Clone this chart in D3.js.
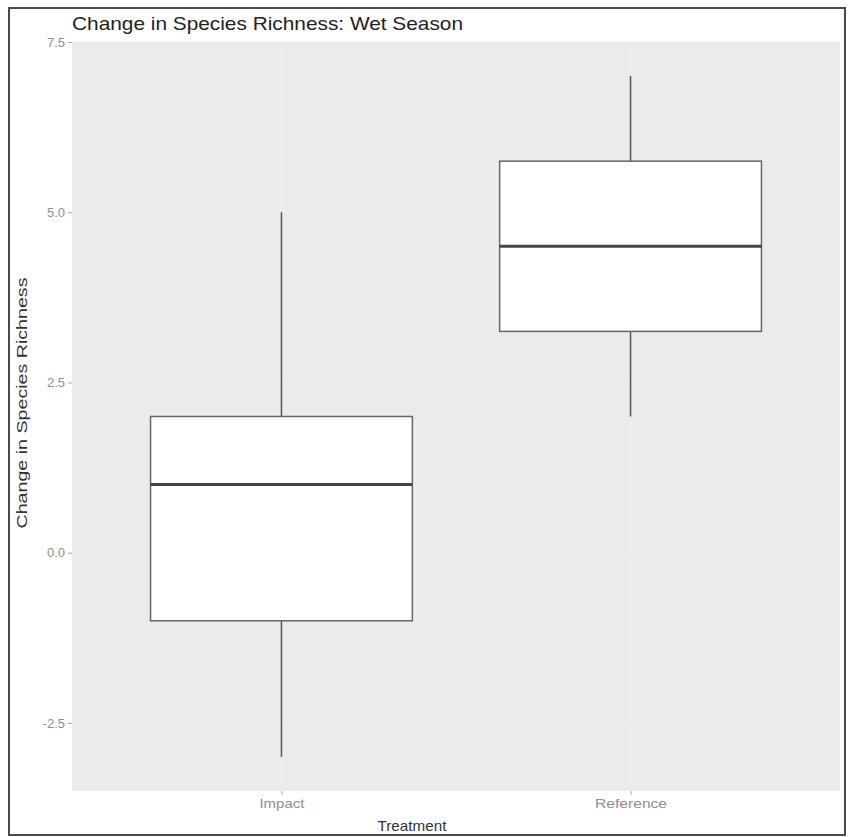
<!DOCTYPE html>
<html>
<head>
<meta charset="utf-8">
<script src="https://cdn.jsdelivr.net/npm/d3@7"></script>
<style>
  html, body { margin: 0; padding: 0; background: #fff; }
  svg { display: block; }
  text { font-family: "Liberation Sans", Arial, sans-serif; }
</style>
</head>
<body>
<svg id="chart" width="848" height="837"></svg>
<script>
// ---- data ----
const categories = ["Impact", "Reference"];
const whiskerLow  = [-3, 2];
const q1          = [-1, 3.25];
const medians     = [1, 4.5];
const q3          = [2, 5.75];
const whiskerHigh = [5, 7];
const yTicks = [-2.5, 0, 2.5, 5, 7.5];
const yTickLabels = ["-2.5", "0.0", "2.5", "5.0", "7.5"];
const titleText = "Change in Species Richness: Wet Season";
const xTitle = "Treatment";
const yTitle = "Change in Species Richness";

const svg = d3.select("#chart");
const panel = { left: 72, right: 840, top: 42, bottom: 791 };

// outer frame
svg.append("rect").attr("x", 9).attr("y", 8).attr("width", 836).attr("height", 827)
  .attr("fill", "#fff").attr("stroke", "#4a4a4a").attr("stroke-width", 2);

const x = d3.scalePoint().domain(categories).range([panel.left, panel.right]).padding(0.6);
const y = d3.scaleLinear().domain([-3.5, 7.5]).range([panel.bottom, panel.top]);
const boxW = x.step() * 0.75;

// panel background
svg.append("rect").attr("x", panel.left).attr("y", panel.top)
  .attr("width", panel.right - panel.left).attr("height", panel.bottom - panel.top)
  .attr("fill", "#ebebeb");

// faint grid
const g = svg.append("g");
g.selectAll("line.hg").data(yTicks).join("line")
  .attr("x1", panel.left).attr("x2", panel.right)
  .attr("y1", d => y(d)).attr("y2", d => y(d))
  .attr("stroke", "#eeeeee").attr("stroke-width", 1);
g.selectAll("line.vg").data(categories).join("line")
  .attr("y1", panel.top).attr("y2", panel.bottom)
  .attr("x1", d => x(d)).attr("x2", d => x(d))
  .attr("stroke", "#eeeeee").attr("stroke-width", 1);

// boxes
const data = categories.map((c, i) => ({ c, lo: whiskerLow[i], q1: q1[i], med: medians[i], q3: q3[i], hi: whiskerHigh[i] }));
const bx = svg.append("g").selectAll("g").data(data).join("g");
bx.append("line").attr("x1", d => x(d.c)).attr("x2", d => x(d.c))
  .attr("y1", d => y(d.hi)).attr("y2", d => y(d.q3)).attr("stroke", "#555").attr("stroke-width", 1.5);
bx.append("line").attr("x1", d => x(d.c)).attr("x2", d => x(d.c))
  .attr("y1", d => y(d.q1)).attr("y2", d => y(d.lo)).attr("stroke", "#555").attr("stroke-width", 1.5);
bx.append("rect").attr("x", d => x(d.c) - boxW / 2).attr("width", boxW)
  .attr("y", d => y(d.q3)).attr("height", d => y(d.q1) - y(d.q3))
  .attr("fill", "#fff").attr("stroke", "#666").attr("stroke-width", 1.5);
bx.append("line").attr("x1", d => x(d.c) - boxW / 2).attr("x2", d => x(d.c) + boxW / 2)
  .attr("y1", d => y(d.med)).attr("y2", d => y(d.med)).attr("stroke", "#444").attr("stroke-width", 3);

// y axis
const yAxis = svg.append("g").attr("transform", `translate(${panel.left},0)`)
  .call(d3.axisLeft(y).tickValues(yTicks).tickSize(4).tickPadding(3)
    .tickFormat((d, i) => yTickLabels[i]));
yAxis.select(".domain").remove();
yAxis.selectAll(".tick line").attr("stroke", "#aaa");
yAxis.selectAll(".tick text").attr("fill", "#8f8f8f").style("font-size", "13px")
  .style("font-family", "Liberation Sans, Arial, sans-serif");

// x axis
const xAxis = svg.append("g").attr("transform", `translate(0,${panel.bottom})`)
  .call(d3.axisBottom(x).tickSize(4).tickPadding(4));
xAxis.select(".domain").remove();
xAxis.selectAll(".tick line").attr("stroke", "#aaa");
xAxis.selectAll(".tick text").attr("fill", "#8f8f8f").style("font-size", "13px")
  .style("font-family", "Liberation Sans, Arial, sans-serif")
  .attr("textLength", d => d === "Impact" ? 45 : 72).attr("lengthAdjust", "spacingAndGlyphs");

// titles
svg.append("text").attr("x", panel.left).attr("y", 30).text(titleText)
  .attr("fill", "#222").style("font-size", "19px")
  .attr("textLength", 391).attr("lengthAdjust", "spacingAndGlyphs");
svg.append("text").attr("x", 412).attr("y", 831).attr("text-anchor", "middle").text(xTitle)
  .attr("fill", "#333").style("font-size", "15px")
  .attr("textLength", 69).attr("lengthAdjust", "spacingAndGlyphs");
svg.append("text").attr("transform", "translate(27,403) rotate(-90)").attr("text-anchor", "middle")
  .text(yTitle).attr("fill", "#333").style("font-size", "15px")
  .attr("textLength", 251).attr("lengthAdjust", "spacingAndGlyphs");
</script>
</body>
</html>
